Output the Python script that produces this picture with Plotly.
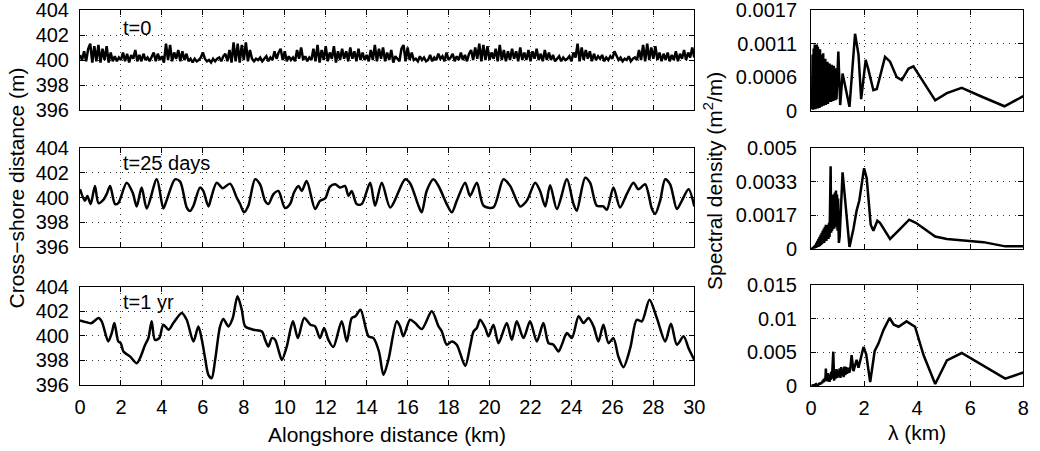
import numpy as np
import plotly.graph_objects as go

# ---------------- data ----------------
# t = 0 shoreline (x every 0.1 km, 0..30 km)
x0_km = np.round(np.arange(0, 30.0001, 0.1), 1)
y0 = [
    400.4, 400.0, 400.7, 399.9, 400.9, 401.3, 399.8, 401.1, 399.9, 401.2,
    399.8, 400.9, 400.0, 401.1, 399.8, 400.6, 399.9, 400.3, 399.9, 400.2,
    400.0, 400.6, 399.9, 400.5, 399.8, 400.4, 400.1, 400.8, 399.9, 400.4,
    399.9, 400.5, 400.0, 400.2, 399.9, 400.2, 400.6, 399.9, 400.5, 400.0,
    400.3, 399.8, 401.3, 400.0, 401.2, 399.9, 400.6, 400.1, 400.8, 399.9,
    400.7, 400.0, 400.5, 399.9, 400.1, 399.8, 400.1, 399.9, 400.0, 400.2,
    400.6, 400.1, 399.9, 400.0, 399.8, 400.1, 399.9, 400.1, 400.2, 399.9,
    400.3, 400.5, 399.9, 400.8, 399.8, 401.4, 399.9, 401.3, 399.8, 401.2,
    400.0, 401.4, 399.9, 400.8, 400.1, 399.9, 400.1, 400.0, 400.2, 399.9,
    400.1, 400.3, 399.9, 400.2, 400.0, 400.7, 400.1, 400.6, 400.9, 400.0,
    400.7, 399.9, 400.3, 400.0, 400.2, 399.9, 400.8, 400.1, 401.0, 400.0,
    400.3, 399.9, 400.2, 400.0, 400.9, 399.9, 401.2, 399.8, 400.8, 400.0,
    401.1, 399.9, 400.6, 400.1, 401.1, 399.8, 400.7, 400.0, 400.9, 400.1,
    400.7, 399.9, 401.0, 400.1, 400.7, 399.9, 400.9, 400.0, 400.6, 400.0,
    400.4, 399.9, 400.8, 400.0, 401.2, 399.9, 400.9, 400.1, 401.0, 399.9,
    400.6, 400.0, 400.8, 399.8, 400.3, 400.1, 399.9, 400.9, 401.2, 399.9,
    401.0, 400.0, 400.6, 400.0, 400.1, 399.9, 400.3, 400.0, 400.2, 399.9,
    400.0, 400.4, 399.9, 400.2, 400.0, 400.5, 400.1, 400.3, 399.9, 400.6,
    400.0, 400.2, 400.5, 399.9, 400.3, 400.0, 400.6, 400.0, 400.4, 399.9,
    400.5, 400.8, 400.0, 401.0, 400.1, 401.3, 399.9, 401.2, 400.0, 401.1,
    400.0, 400.6, 400.1, 400.9, 399.9, 401.2, 400.0, 400.8, 399.9, 400.7,
    400.0, 400.9, 400.1, 400.7, 399.9, 401.0, 400.0, 400.6, 400.0, 400.8,
    399.9, 400.7, 400.1, 400.9, 400.0, 400.5, 399.9, 400.8, 400.0, 400.6,
    400.0, 400.4, 399.9, 400.1, 400.3, 399.9, 400.2, 400.0, 400.1, 400.3,
    399.9, 400.6, 400.2, 401.3, 399.9, 401.0, 400.0, 400.8, 400.1, 400.7,
    399.9, 400.5, 400.0, 400.3, 400.1, 400.4, 399.9, 400.2, 400.0, 400.3,
    400.1, 400.7, 400.4, 400.0, 400.2, 399.9, 400.1, 400.0, 400.3, 399.9,
    400.1, 400.2, 400.0, 400.8, 400.0, 401.2, 399.9, 401.3, 400.0, 401.0,
    400.1, 401.1, 400.0, 400.6, 399.9, 400.5, 400.0, 400.6, 399.9, 400.4,
    400.0, 400.7, 399.9, 400.5, 400.1, 400.8, 400.0, 400.6, 400.2, 401.0,
    400.2,
]

# t = 25 days shoreline
x25_km = [0.00, 0.24, 0.36, 0.52, 0.73, 0.90, 1.14, 1.30, 1.47, 1.71, 1.87, 2.28, 2.57, 2.77,
          3.01, 3.26, 3.75, 4.07, 4.24, 4.64, 4.89, 5.21, 5.37, 5.54, 5.86, 6.02, 6.27, 6.43,
          6.68, 6.97, 7.33, 7.65, 7.82, 8.01, 8.22, 8.55, 8.79, 9.04, 9.20, 9.45, 9.69, 10.01,
          10.26, 10.45, 10.67, 10.83, 11.07, 11.48, 11.72, 11.97, 12.21, 12.46, 12.70, 12.94,
          13.11, 13.27, 13.51, 13.76, 14.17, 14.41, 14.74, 15.15, 15.88, 16.12, 16.53, 16.69,
          16.93, 17.26, 17.51, 17.91, 18.16, 18.40, 18.81, 19.05, 19.38, 19.71, 20.19, 20.68,
          21.01, 21.50, 21.82, 22.23, 22.47, 22.72, 22.96, 23.29, 23.78, 24.10, 24.26, 24.67,
          24.91, 25.24, 25.56, 25.73, 26.05, 26.37, 26.70, 27.03, 27.27, 27.60, 27.93, 28.09,
          28.33, 28.58, 28.82, 29.15, 29.39, 29.72, 30.00]
y25 = [400.67, 399.73, 400.13, 399.47, 400.93, 399.55, 399.81, 400.27, 400.93, 399.47, 399.55,
       401.20, 400.40, 399.28, 400.80, 399.12, 401.47, 399.12, 399.81, 401.47, 401.28, 399.20,
       398.90, 399.33, 400.80, 400.53, 399.28, 400.13, 401.20, 400.75, 401.12, 400.00, 399.47,
       398.80, 399.33, 401.47, 401.07, 399.73, 399.47, 400.27, 400.53, 399.15, 399.47, 400.40,
       400.93, 400.53, 401.33, 399.07, 399.73, 399.92, 400.88, 401.07, 400.80, 400.93, 400.13,
       400.53, 399.47, 399.47, 401.20, 399.33, 401.20, 399.20, 401.47, 401.15, 399.33, 398.80,
       400.53, 401.47, 400.93, 399.47, 398.80, 399.73, 401.20, 400.13, 401.20, 399.33, 399.20,
       401.47, 400.93, 399.28, 399.73, 401.20, 400.53, 399.28, 400.99, 399.07, 401.47, 399.47,
       398.93, 401.60, 401.20, 399.33, 399.28, 399.01, 400.80, 399.20, 400.27, 401.20, 400.67,
       401.07, 399.07, 398.67, 399.73, 401.47, 401.07, 399.07, 399.73, 400.67, 399.28]

# t = 1 yr shoreline
x1y_km = [0.00, 0.33, 0.57, 0.90, 1.06, 1.38, 1.55, 1.68, 1.87, 1.99, 2.12, 2.44, 2.77, 2.93,
          3.18, 3.34, 3.50, 3.66, 3.87, 4.07, 4.32, 4.56, 4.97, 5.21, 5.54, 5.78, 5.95, 6.11,
          6.27, 6.43, 6.60, 6.84, 7.00, 7.25, 7.46, 7.69, 7.90, 8.07, 8.47, 8.88, 9.04, 9.20,
          9.37, 9.53, 9.69, 9.86, 10.10, 10.40, 10.64, 10.95, 11.25, 11.48, 11.72, 11.92, 12.13,
          12.37, 12.78, 13.03, 13.27, 13.45, 13.70, 14.09, 14.33, 14.60, 14.82, 15.06, 15.47,
          15.63, 15.79, 16.12, 16.37, 16.69, 17.18, 17.51, 17.67, 17.91, 18.16, 18.40, 18.81,
          19.05, 19.22, 19.38, 19.54, 19.79, 19.95, 20.19, 20.44, 20.84, 21.09, 21.33, 21.66,
          21.98, 22.31, 22.63, 22.88, 23.12, 23.37, 23.53, 23.78, 24.02, 24.35, 24.59, 24.83,
          25.08, 25.32, 25.56, 25.81, 26.05, 26.29, 26.54, 26.87, 27.19, 27.44, 27.81, 28.17,
          28.58, 28.86, 29.15, 29.48, 29.72, 30.00]
y1y = [401.25, 401.09, 401.03, 401.44, 401.17, 399.54, 400.22, 401.03, 399.54, 399.40, 398.72,
       398.32, 397.77, 398.18, 399.27, 399.81, 401.17, 399.67, 399.81, 400.90, 400.49, 401.03,
       401.85, 401.30, 399.54, 400.76, 399.67, 398.18, 396.82, 396.55, 398.04, 400.76, 401.36,
       400.76, 401.44, 403.21, 402.12, 400.76, 400.49, 400.35, 399.67, 399.13, 399.81, 399.67,
       398.86, 398.04, 399.13, 401.17, 399.81, 401.44, 400.90, 400.76, 399.81, 400.63, 399.67,
       399.08, 401.17, 399.54, 401.44, 401.58, 402.12, 399.95, 399.81, 398.72, 396.82, 398.04,
       401.17, 400.76, 399.95, 401.30, 401.03, 400.54, 401.98, 400.76, 400.35, 399.27, 399.54,
       399.27, 397.55, 399.13, 400.35, 400.63, 401.30, 400.63, 399.95, 400.90, 399.40, 401.03,
       399.67, 401.17, 399.81, 401.17, 399.54, 401.03, 399.40, 399.27, 398.72, 399.27, 400.22,
       399.81, 401.58, 401.03, 401.44, 400.76, 399.54, 400.90, 399.40, 399.81, 398.32, 397.45,
       398.99, 401.30, 401.17, 402.93, 401.44, 399.54, 400.98, 399.27, 399.95, 398.99, 398.04]

# spectra: wavelength (km) and spectral density (m^2/m)
lam0 = [0.02, 0.04, 0.06, 0.08, 0.10, 0.12, 0.14, 0.16, 0.18, 0.20, 0.22, 0.24, 0.26, 0.28,
        0.30, 0.32, 0.34, 0.36, 0.38, 0.40, 0.42, 0.44, 0.46, 0.48, 0.50, 0.52, 0.54, 0.56,
        0.58, 0.60, 0.62, 0.64, 0.66, 0.68, 0.70, 0.72, 0.74, 0.76, 0.78, 0.80, 0.82, 0.84,
        0.86, 0.88, 0.90, 0.92, 0.94, 0.96, 1.03, 1.10, 1.19, 1.29, 1.45, 1.66, 1.79, 1.89,
        2.06, 2.16, 2.35, 2.48, 2.79, 2.98, 3.23, 3.42, 3.67, 3.86, 4.68, 5.12, 5.68, 6.44,
        7.29, 8.00]
s0 = [0.0004, 0.00003, 0.00095, 0.00002, 0.00105, 0.00004, 0.00112, 0.00003, 0.0011, 0.00005,
      0.00112, 0.00004, 0.00108, 0.00006, 0.0010, 0.00005, 0.00104, 0.00008, 0.00095, 0.00007,
      0.0009, 0.0001, 0.00097, 0.00009, 0.00085, 0.00012, 0.00088, 0.0001, 0.0008, 0.00014,
      0.00083, 0.00012, 0.00075, 0.00015, 0.0008, 0.00016, 0.00072, 0.00015, 0.00078, 0.00018,
      0.0007, 0.00017, 0.00076, 0.00019, 0.0007, 0.00018, 0.00072, 0.0002, 0.0010, 0.0001,
      0.00063, 0.0004, 0.00007, 0.0013, 0.00095, 0.0002, 0.00086, 0.0007, 0.00035, 0.00037,
      0.00091, 0.00083, 0.00057, 0.00052, 0.00071, 0.00075, 0.00018, 0.0003, 0.00039, 0.00024,
      0.00008, 0.00025]

lam25 = [0.02, 0.04, 0.06, 0.08, 0.10, 0.12, 0.14, 0.16, 0.18, 0.20, 0.22, 0.24, 0.26, 0.28,
         0.30, 0.32, 0.34, 0.36, 0.38, 0.40, 0.42, 0.44, 0.46, 0.48, 0.50, 0.52, 0.54, 0.56,
         0.58, 0.60, 0.62, 0.64, 0.66, 0.68, 0.70, 0.74, 0.76, 0.78, 0.80, 0.82, 0.84, 0.86,
         0.88, 0.90, 0.92, 0.94, 0.96, 0.98, 1.00, 1.02, 1.05, 1.08, 1.19, 1.45, 1.60, 1.72,
         1.82, 2.00, 2.10, 2.25, 2.35, 2.50, 2.60, 2.98, 3.36, 3.70, 3.95, 4.68, 5.12, 6.50,
         7.32, 8.00]
s25 = [0.0, 0.00005, 0.0, 0.0001, 0.00002, 0.00015, 0.00003, 0.0002, 0.00005, 0.0003,
       0.00008, 0.0004, 0.0001, 0.0005, 0.00012, 0.0006, 0.00015, 0.0007, 0.0002, 0.0008,
       0.00025, 0.0009, 0.0003, 0.0010, 0.0003, 0.0011, 0.0004, 0.0012, 0.0004, 0.0011,
       0.0005, 0.0012, 0.0005, 0.0013, 0.0006, 0.0041, 0.0008, 0.0025, 0.0009, 0.0027,
       0.0012, 0.0026, 0.0010, 0.0028, 0.0013, 0.0029, 0.0011, 0.0027, 0.0009, 0.0025,
       0.0003, 0.0006, 0.0038, 0.0001, 0.0010, 0.0019, 0.0024, 0.0040, 0.0035, 0.0012,
       0.0009, 0.0014, 0.0013, 0.0005, 0.0010, 0.00145, 0.0013, 0.00062, 0.0005, 0.00034,
       0.00013, 0.00013]

lam1y = [0.02, 0.04, 0.06, 0.08, 0.10, 0.12, 0.14, 0.16, 0.18, 0.20, 0.22, 0.24, 0.26, 0.28,
         0.30, 0.32, 0.34, 0.36, 0.38, 0.40, 0.42, 0.44, 0.46, 0.48, 0.50, 0.52, 0.54, 0.56,
         0.58, 0.60, 0.62, 0.64, 0.66, 0.68, 0.70, 0.72, 0.74, 0.76, 0.78, 0.80, 0.84, 0.87,
         0.90, 0.93, 0.96, 0.99, 1.02, 1.05, 1.08, 1.11, 1.14, 1.17, 1.20, 1.23, 1.26, 1.29,
         1.32, 1.36, 1.40, 1.44, 1.48, 1.53, 1.60, 1.72, 1.79, 1.98, 2.08, 2.23, 2.40, 2.54,
         2.73, 2.96, 3.12, 3.30, 3.60, 3.92, 4.24, 4.68, 5.12, 5.68, 7.32, 8.00]
s1y = [0.0, 0.00005, 0.0, 0.0001, 0.00002, 0.0001, 0.00005, 0.0002, 0.00005, 0.0002,
       0.0001, 0.0003, 0.0001, 0.0003, 0.0002, 0.0004, 0.0002, 0.0005, 0.0003, 0.0006,
       0.0004, 0.0008, 0.0005, 0.0010, 0.0006, 0.0012, 0.0008, 0.0026, 0.0009, 0.0015,
       0.0007, 0.0019, 0.0008, 0.0016, 0.0006, 0.0017, 0.0009, 0.0021, 0.0011, 0.0020,
       0.0051, 0.0008, 0.0022, 0.0011, 0.0025, 0.0012, 0.0023, 0.0014, 0.0026, 0.0012,
       0.0028, 0.0015, 0.0026, 0.0013, 0.0029, 0.0016, 0.0028, 0.0018, 0.0027, 0.0020,
       0.0025, 0.0046, 0.0022, 0.0039, 0.0027, 0.0058, 0.0047, 0.0006, 0.0052, 0.0063,
       0.0083, 0.0101, 0.0091, 0.0088, 0.0096, 0.0088, 0.0046, 0.0003, 0.0038, 0.0049,
       0.0011, 0.0020]

panel_labels = ["t=0", "t=25 days", "t=1 yr"]
left_yticks = [396, 398, 400, 402, 404]
left_xticks = list(range(0, 31, 2))
right_xticks = [0, 2, 4, 6, 8]
spec_max = [0.0017, 0.005, 0.015]
spec_ticktext = [["0", "0.0006", "0.0011", "0.0017"],
                 ["0", "0.0017", "0.0033", "0.005"],
                 ["0", "0.005", "0.01", "0.015"]]

# ---------------- figure ----------------
W, H = 1040, 451
FONT = "Liberation Sans, Arial, Helvetica, sans-serif"
TICKFS = 20
LABFS = 21

def px_x(a, b):
    return [a / W, b / W]

def px_y(top, bot):
    return [1 - bot / H, 1 - top / H]

left_x = px_x(80, 694.3)
right_x = px_x(811, 1023.3)
left_rows = [px_y(10, 110), px_y(148, 247), px_y(286.5, 385)]
right_rows = [px_y(10, 111), px_y(148, 249), px_y(285, 386)]

fig = go.Figure()
line = dict(color="black", width=2.5)
spl = dict(color="black", width=2.5, shape="spline", smoothing=0.8)
fig.add_trace(go.Scatter(x=x0_km, y=y0, mode="lines", line=line, xaxis="x", yaxis="y"))
fig.add_trace(go.Scatter(x=x25_km, y=y25, mode="lines", line=spl, xaxis="x2", yaxis="y2"))
fig.add_trace(go.Scatter(x=x1y_km, y=y1y, mode="lines", line=spl, xaxis="x3", yaxis="y3"))
fig.add_trace(go.Scatter(x=lam0, y=s0, mode="lines", line=line, xaxis="x4", yaxis="y4"))
fig.add_trace(go.Scatter(x=lam25, y=s25, mode="lines", line=line, xaxis="x5", yaxis="y5"))
fig.add_trace(go.Scatter(x=lam1y, y=s1y, mode="lines", line=line, xaxis="x6", yaxis="y6"))

common = dict(showline=True, linecolor="black", linewidth=1, mirror="allticks",
              ticks="inside", ticklen=5, tickcolor="black", tickwidth=1,
              showgrid=True, gridcolor="#333333", gridwidth=1, griddash="1px,5px",
              zeroline=False, automargin=False, ticklabeloverflow="allow",
              tickfont=dict(family=FONT, size=TICKFS, color="black"))

layout = {}
for i in range(3):
    n = i + 1
    xa = "xaxis" if n == 1 else f"xaxis{n}"
    ya = "yaxis" if n == 1 else f"yaxis{n}"
    layout[xa] = dict(common, domain=left_x, anchor="y" if n == 1 else f"y{n}",
                      range=[0, 30], tickvals=left_xticks,
                      showticklabels=(i == 2), ticklabelstandoff=4)
    layout[ya] = dict(common, domain=left_rows[i], anchor="x" if n == 1 else f"x{n}",
                      range=[396, 404], tickvals=left_yticks, ticklabelstandoff=6)
for i in range(3):
    n = i + 4
    mx = spec_max[i]
    layout[f"xaxis{n}"] = dict(common, domain=right_x, anchor=f"y{n}", range=[0, 8],
                               tickvals=right_xticks, showticklabels=(i == 2),
                               ticklabelstandoff=4)
    layout[f"yaxis{n}"] = dict(common, domain=right_rows[i], anchor=f"x{n}", range=[0, mx],
                               tickvals=[0, mx / 3, 2 * mx / 3, mx],
                               ticktext=spec_ticktext[i], ticklabelstandoff=9)

annotations = []
label_y = [402.6, 402.8, 402.75]
for i, txt in enumerate(panel_labels):
    n = i + 1
    annotations.append(dict(text=txt, x=2.0, y=label_y[i], xref="x" if n == 1 else f"x{n}",
                            yref="y" if n == 1 else f"y{n}", xanchor="left", yanchor="middle",
                            showarrow=False, font=dict(family=FONT, size=TICKFS, color="black")))
annotations += [
    dict(text="Cross\u2212shore distance (m)", x=15.5 / W, y=1 - 188 / H, xref="paper", yref="paper",
         textangle=-90, showarrow=False, xanchor="center", yanchor="middle",
         font=dict(family=FONT, size=LABFS, color="black")),
    dict(text="Spectral density (m<sup>2</sup>/m)", x=713 / W, y=1 - 181 / H, xref="paper",
         yref="paper", textangle=-90, showarrow=False, xanchor="center", yanchor="middle",
         font=dict(family=FONT, size=LABFS, color="black")),
    dict(text="Alongshore distance (km)", x=387 / W, y=1 - 434 / H, xref="paper", yref="paper",
         showarrow=False, xanchor="center", yanchor="middle",
         font=dict(family=FONT, size=LABFS, color="black")),
    dict(text="\u03bb (km)", x=917 / W, y=1 - 432 / H, xref="paper", yref="paper",
         showarrow=False, xanchor="center", yanchor="middle",
         font=dict(family=FONT, size=LABFS, color="black")),
]

fig.update_layout(width=W, height=H, margin=dict(l=0, r=0, t=0, b=0, autoexpand=False),
                  paper_bgcolor="white", plot_bgcolor="white", showlegend=False,
                  annotations=annotations, **layout)

fig.write_html("out.html")
